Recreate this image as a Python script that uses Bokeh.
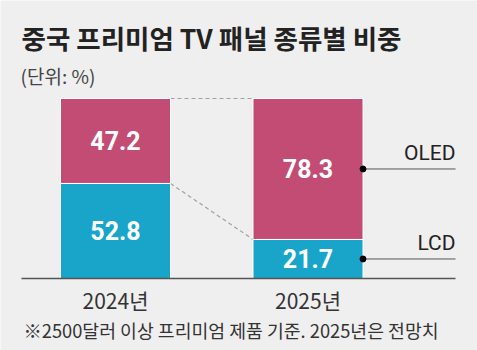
from bokeh.plotting import figure
from bokeh.models import Label, Range1d, ColumnDataSource
from bokeh.core.properties import value
from bokeh.embed import file_html
from bokeh.resources import INLINE

# ---- data ----
years = ["2024년", "2025년"]
lcd = [52.8, 21.7]
oled = [47.2, 78.3]
series_names = ["OLED", "LCD"]
title_text = "중국 프리미엄 TV 패널 종류별 비중"
unit_text = "(단위: %)"
note_text = "※2500달러 이상 프리미엄 제품 기준. 2025년은 전망치"

# ---- layout constants (pixels) ----
W, H = 477, 350
BASE_PX = 278
TOP_PX = 98
SCALE = (BASE_PX - TOP_PX) / 100.0
C0, C1 = 115.0, 307.5
XS = C1 - C0

def px_x(px):
    return (px - C0) / XS

y_start = -(H - BASE_PX) / SCALE
y_end = 100 + TOP_PX / SCALE
bar_w = 110.0 / XS

BG = "#efefef"
PINK = "#c34c75"
BLUE = "#18a5c9"
KR = "Noto Sans CJK KR"

xi = list(range(len(years)))
totals = [a + b for a, b in zip(lcd, oled)]

p = figure(width=W, height=H, output_backend="svg", toolbar_location=None,
           x_range=Range1d(px_x(0), px_x(W)), y_range=Range1d(y_start, y_end),
           x_axis_location=None, y_axis_location=None, min_border=0)
p.grid.visible = False
p.outline_line_color = None
p.background_fill_color = BG
p.border_fill_color = BG

src = ColumnDataSource(dict(x=xi, lcd=lcd, oled=oled, total=totals, year=years,
                            lcd_mid=[v / 2 for v in lcd],
                            oled_mid=[l + o / 2 for l, o in zip(lcd, oled)],
                            lcd_txt=[f"{v}" for v in lcd],
                            oled_txt=[f"{v}" for v in oled]))

# connectors
p.segment(x0=[xi[0] + bar_w / 2] * 2, y0=[totals[0], lcd[0]],
          x1=[xi[1] - bar_w / 2] * 2, y1=[totals[1], lcd[1]],
          line_color="#a0a0a0", line_width=1.2, line_dash="4 3")

# bars
p.vbar(x="x", bottom=0, top="lcd", width=bar_w, source=src,
       fill_color=BLUE, line_color="white", line_width=1)
p.vbar(x="x", bottom="lcd", top="total", width=bar_w, source=src,
       fill_color=PINK, line_color="white", line_width=1)

# baseline
p.segment(x0=[px_x(21)], y0=[0], x1=[px_x(455)], y1=[0], line_color="#555555", line_width=1.5)

# value labels
for col, mid in (("lcd_txt", "lcd_mid"), ("oled_txt", "oled_mid")):
    p.text(x="x", y=mid, text=col, source=src, text_align="center", text_baseline="middle",
           text_color="white", text_font=value("Roboto"), text_font_size="25px",
           text_font_style="bold")

# leaders for last bar
last = xi[-1]
lead_y = [lcd[-1] + oled[-1] / 2, lcd[-1] / 2]
p.segment(x0=[last + bar_w / 2] * 2, y0=lead_y, x1=[px_x(455)] * 2, y1=lead_y,
          line_color="#555555", line_width=1)
p.scatter(x=[last + bar_w / 2] * 2, y=lead_y, size=6, color="black")
p.text(x=[px_x(455)] * 2, y=lead_y, text=series_names, text_align="right",
       text_baseline="bottom", y_offset=-4, text_color="#222222",
       text_font=value("Roboto"), text_font_size="21px")

# year labels
p.text(x="x", y=0, text="year", source=src, text_align="center", text_baseline="top",
       y_offset=6, text_color="#333333", text_font=value(KR), text_font_size="21px")

# titles
p.add_layout(Label(x=21, y=H - 37, x_units="screen", y_units="screen", text=title_text,
                   text_font=KR, text_font_size="26.5px", text_font_style="bold",
                   text_color="#222222", text_baseline="middle"))
p.add_layout(Label(x=20, y=H - 75, x_units="screen", y_units="screen", text=unit_text,
                   text_font=KR, text_font_size="19px", text_color="#444444",
                   text_baseline="middle"))
p.add_layout(Label(x=23, y=H - 329, x_units="screen", y_units="screen", text=note_text,
                   text_font=KR, text_font_size="18.3px", text_color="#333333",
                   text_baseline="middle"))

open("out.html", "w").write(file_html(p, INLINE))
